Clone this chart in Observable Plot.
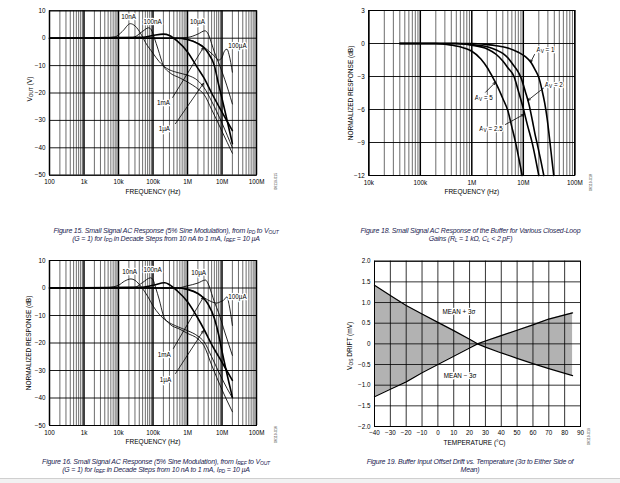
<!DOCTYPE html>
<html><head><meta charset="utf-8">
<script src="https://cdn.jsdelivr.net/npm/d3@7"></script>
<script src="https://cdn.jsdelivr.net/npm/@observablehq/plot@0.6"></script>
<style>
body{margin:0;background:#fff;}
#page{position:relative;width:620px;height:483px;overflow:hidden;background:#fff;font-family:"Liberation Sans",Arial,sans-serif;}
.panel{position:absolute;}
.panel svg{background:transparent !important;overflow:visible;}
.cap{position:absolute;width:300px;text-align:center;font-style:italic;font-size:7px;line-height:8.3px;color:#1b2350;letter-spacing:-0.2px;white-space:nowrap;}
.cap sub{font-size:5px;vertical-align:-1px;line-height:0;}
#rule{position:absolute;left:0;top:478px;width:620px;height:1px;background:#cfcfcf;}
#band{position:absolute;left:0;top:479px;width:620px;height:4px;background:#f2f2f2;}
</style></head>
<body>
<div id="page">
  <div class="panel" id="p15" style="left:0;top:0;width:300px;height:200px"></div>
  <div class="panel" id="p18" style="left:310px;top:0;width:310px;height:200px"></div>
  <div class="panel" id="p16" style="left:0;top:250px;width:300px;height:200px"></div>
  <div class="panel" id="p19" style="left:310px;top:250px;width:310px;height:200px"></div>
  <div class="cap" style="left:16px;top:226.5px">Figure 15. Small Signal AC Response (5% Sine Modulation), from I<sub>PD</sub> to V<sub>OUT</sub><br>(G = 1) for I<sub>PD</sub> in Decade Steps from 10 nA to 1 mA, I<sub>REF</sub> = 10 µA</div>
  <div class="cap" style="left:320.5px;top:226.5px">Figure 18. Small Signal AC Response of the Buffer for Various Closed-Loop<br>Gains (R<sub>L</sub> = 1 kΩ, C<sub>L</sub> &lt; 2 pF)</div>
  <div class="cap" style="left:6px;top:457.5px">Figure 16. Small Signal AC Response (5% Sine Modulation), from I<sub>REF</sub> to V<sub>OUT</sub><br>(G = 1) for I<sub>REF</sub> in Decade Steps from 10 nA to 1 mA, I<sub>PD</sub> = 10 µA</div>
  <div class="cap" style="left:320px;top:457.5px">Figure 19. Buffer Input Offset Drift vs. Temperature (3σ to Either Side of<br>Mean)</div>
  <div id="rule"></div><div id="band"></div>
</div>
<script>
// ---------- Figure 15 data (frequency Hz, dB) ----------
const fig15_10nA  = [[100,0],[3e3,0],[8e3,0.5],[1.3e4,2.5],[2.2e4,5.3],[3e4,4.5],[4.5e4,1.5],[6e4,-1.5],[1e5,-5.5],[1.5e5,-8.5],[2.5e5,-11],[5e5,-12.5],[1e6,-13.5],[2e6,-15.5],[3e6,-18],[5e6,-23],[1e7,-31],[2e7,-40]];
const fig15_100nA = [[100,0],[2e4,0],[3e4,0.5],[5e4,2.5],[7.5e4,3.8],[9e4,3],[1.1e5,0],[1.4e5,-4],[2e5,-10],[3e5,-12.5],[6e5,-14.5],[1e6,-16],[2e6,-18.5],[3e6,-20.5],[5e6,-26],[1e7,-34],[2e7,-42]];
const fig15_1uA   = [[100,0],[5e4,0.3],[1e5,1],[2e5,1.5],[3e5,1],[5e5,-1],[1e6,-5],[2e6,-11],[3e6,-14.5],[5e6,-20],[1e7,-27],[2e7,-33.7]];
const fig15_10uA  = [[100,0],[3e5,0],[1e6,0.3],[2e6,1.5],[3.2e6,2.7],[4e6,1.5],[5e6,-2],[6e6,-5],[8e6,-9],[1.2e7,-15],[2e7,-24]];
const fig15_100uA = [[100,0],[5e5,0],[1e6,-0.5],[2e6,-1.8],[3e6,-3.2],[4e6,-4.5],[6e6,-6.5],[8e6,-8],[1e7,-7],[1.2e7,-4.5],[1.4e7,-4],[1.6e7,-6],[2e7,-12.4]];
const fig15_1mA   = [[100,0],[5e5,0],[1e6,-0.5],[2e6,-2],[3e6,-3.5],[4e6,-5.5],[6e6,-10],[8e6,-17],[1e7,-22],[2e7,-38.5]];
const fig15LabelText = ["10nA","100nA","10µA","100µA","1mA","1µA"];
const fig15LabelFreq = [1.95e4, 9.8e4, 1.95e6, 2.8e7, 2.0e5, 2.14e5];
const fig15LabelDb   = [7.9, 6.1, 6.1, -2.7, -23.8, -33.3];
const fig15Arrows = [[3.72e5,-21.6,2.9e6,-3.4],[4.47e5,-31.2,2.9e6,-16.5]];

// ---------- Figure 16 data ----------
const fig16_10nA  = [[100,0],[5e3,0.2],[1e4,1],[1.5e4,2.5],[2.3e4,3.3],[3e4,2.8],[4.5e4,0.5],[7e4,-3],[1e5,-6.5],[1.5e5,-9.5],[2.5e5,-12],[5e5,-14],[1e6,-15.5],[2e6,-17.5],[3e6,-19.5],[5e6,-25],[1e7,-33],[2e7,-40]];
const fig16_100nA = [[100,0],[3e4,0.3],[5e4,2],[8.5e4,3.7],[1e5,3],[1.2e5,0],[1.5e5,-4],[2e5,-10],[3e5,-13],[6e5,-15],[1e6,-16.5],[2e6,-18.5],[3e6,-21],[5e6,-28],[1e7,-37],[2e7,-45]];
const fig16_1uA   = [[100,0],[5e4,0.3],[1e5,1],[2.2e5,1.9],[3e5,1.2],[5e5,-1],[1e6,-5],[2e6,-11],[3e6,-15],[5e6,-20.5],[1e7,-27],[2e7,-33.6]];
const fig16_10uA  = [[100,0],[5e5,0],[1e6,0.8],[2e6,1.8],[3.3e6,2.9],[4e6,1.5],[5e6,-2],[6e6,-5],[8e6,-9],[1.2e7,-16],[2e7,-24.5]];
const fig16_100uA = [[100,0],[5e5,0],[1e6,-0.5],[2e6,-2],[3e6,-3.5],[5e6,-5],[7e6,-5.5],[9e6,-5],[1.1e7,-4.5],[1.4e7,-3.2],[1.6e7,-6],[2e7,-13.6]];
const fig16_1mA   = [[100,0],[5e5,0],[1e6,-0.5],[2e6,-2],[3e6,-3.8],[4e6,-6],[6e6,-11],[8e6,-17],[1e7,-23],[2e7,-39.7]];
const fig16LabelText = ["10nA","100nA","10µA","100µA","1mA","1µA"];
const fig16LabelFreq = [2.1e4, 9.8e4, 2.1e6, 2.8e7, 2.1e5, 2.3e5];
const fig16LabelDb   = [5.75, 6.7, 5.6, -3.1, -24.2, -33.6];
const fig16Arrows = [[3.9e5,-22,2.9e6,-3.3],[4.5e5,-31.1,2.9e6,-15.5]];

// ---------- Figure 15/16 axes ----------
const dbTicks = [10,0,-10,-20,-30,-40,-50];
const dbTickLabels = ["10","0","−10","−20","−30","−40","−50"];
const freqTicksA = [1e2,1e3,1e4,1e5,1e6,1e7,1e8];
const freqTickLabelsA = ["100","1k","10k","100k","1M","10M","100M"];

// ---------- Figure 18 data ----------
const fig18_Av1  = [[4e4,0],[1e6,0],[2e6,-0.1],[3e6,-0.2],[5e6,-0.4],[8e6,-0.8],[1.1e7,-1.2],[1.4e7,-1.7],[1.7e7,-2.4],[2e7,-3.1],[2.3e7,-4.2],[2.6e7,-5.4],[2.9e7,-6.8],[3.3e7,-9],[3.6e7,-10.6],[3.9e7,-12]];
const fig18_Av2  = [[4e4,0],[5e5,0],[1e6,-0.1],[2e6,-0.3],[3e6,-0.6],[4e6,-0.9],[5e6,-1.3],[6.5e6,-2],[8e6,-2.6],[9e6,-3.1],[1.1e7,-4.4],[1.3e7,-5.6],[1.5e7,-7],[1.7e7,-8.3],[1.9e7,-9.3],[2.2e7,-10.7],[2.5e7,-12]];
const fig18_Av25 = [[4e4,0],[5e5,0],[1e6,-0.15],[2e6,-0.5],[3e6,-1],[4e6,-1.6],[5e6,-2.2],[6.6e6,-3],[8e6,-4.3],[1e7,-5.9],[1.2e7,-7.4],[1.5e7,-9.1],[1.7e7,-10.3],[2e7,-12]];
const fig18_Av5  = [[4e4,0],[2e5,0],[4e5,-0.15],[7e5,-0.4],[1e6,-0.7],[1.5e6,-1.4],[2e6,-2.2],[2.5e6,-3],[3e6,-3.7],[4e6,-5],[5e6,-6.1],[6e6,-7.6],[7e6,-8.9],[8e6,-10.2],[9.5e6,-12]];
const fig18LabelText = ["A_{V} = 1","A_{V} = 2","A_{V} = 5","A_{V} = 2.5"];
const fig18LabelFreq = [2.7e7, 3.91e7, 1.71e6, 2.36e6];
const fig18LabelDb   = [-0.57, -3.73, -4.95, -7.73];
const fig18Arrows = [[1.65e7,-1.0,1.38e7,-1.73],[2.5e7,-4.03,1.22e7,-5.18],[1.85e6,-4.43,2.88e6,-3.52],[4.5e6,-7.36,1.02e7,-6.45]];
const normTicks = [3,0,-3,-6,-9,-12];
const normTickLabels = ["3","0","−3","−6","−9","−12"];
const freqTicksB = [1e4,1e5,1e6,1e7,1e8];
const freqTickLabelsB = ["10k","100k","1M","10M","100M"];

// ---------- Figure 19 data ----------
const tempC     = [-40,-30,-20,-10,0,10,20,25,30,40,50,60,70,85];
const driftA    = [1.42,1.17,0.93,0.72,0.52,0.32,0.11,0,-0.08,-0.22,-0.35,-0.48,-0.6,-0.77];
const driftB    = [-1.28,-1.1,-0.92,-0.7,-0.5,-0.3,-0.1,0,0.07,0.2,0.33,0.46,0.6,0.75];
const tempTicks = [-40,-30,-20,-10,0,10,20,30,40,50,60,70,80,90];
const tempTickLabels = ["−40","−30","−20","−10","0","10","20","30","40","50","60","70","80","90"];
const driftTicks = [2,1.5,1,0.5,0,-0.5,-1,-1.5,-2];
const driftTickLabels = ["2.0","1.5","1.0","0.5","0","−0.5","−1.0","−1.5","−2.0"];
const fig19LabelText = ["MEAN + 3σ","MEAN − 3σ"];
const fig19LabelTemp = [13.3, 14];
const fig19LabelDrift = [0.76, -0.78];

// ---------- helpers ----------
const FONT = "Liberation Sans, Arial, sans-serif";
const FS = 6.3;

function applySubs(svg){
  svg.querySelectorAll("text").forEach(el => {
    const t = el.textContent;
    if (!t.includes("_{")) return;
    while (el.firstChild) el.removeChild(el.firstChild);
    const parts = t.split(/(_\{[^}]*\})/).filter(Boolean);
    let shifted = false;
    for (const p of parts) {
      const ts = document.createElementNS("http://www.w3.org/2000/svg","tspan");
      const m = p.match(/^_\{(.*)\}$/);
      if (m) { ts.textContent = m[1]; ts.setAttribute("font-size","75%"); ts.setAttribute("dy","1.4"); shifted = true; }
      else { ts.textContent = p; if (shifted) { ts.setAttribute("dy","-1.4"); shifted = false; } }
      el.appendChild(ts);
    }
  });
}

function seriesRows(list){
  return list.flatMap(c => c.pts.map(([f,db]) => ({f, db, name: c.name})));
}
function labelRows(text, fx, fy){ return text.map((t,i) => ({t, f: fx[i], v: fy[i]})); }
function arrowRows(a){ return a.map(([f1,v1,f2,v2]) => ({f1,v1,f2,v2})); }
function tickRows(v, l){ return v.map((d,i) => ({v: d, label: l[i]})); }

function logPanel(cfg){
  const [x0,x1] = cfg.xDomain;
  const minor = [];
  for (let d = x0; d < x1; d *= 10) for (let k = 2; k <= 9; k++) minor.push(d*k);
  const svg = Plot.plot({
    width: cfg.width, height: 200,
    marginLeft: cfg.ml, marginRight: cfg.width - cfg.xr, marginTop: cfg.mt, marginBottom: 200 - cfg.yb,
    x: {type: "log", domain: cfg.xDomain, axis: null},
    y: {domain: cfg.yDomain, axis: null},
    style: {fontFamily: FONT, background: "transparent", color: "#000"},
    marks: [
      Plot.ruleX(minor, {stroke: "#1e1e1e", strokeWidth: 0.65}),
      Plot.ruleX(cfg.xTicks, {stroke: "#000", strokeWidth: 1.5}),
      Plot.ruleY(cfg.yTicks, {stroke: "#000", strokeWidth: 0.9}),
      Plot.frame({stroke: "#000", strokeWidth: 1}),
      Plot.line(seriesRows(cfg.thin), {x: "f", y: "db", z: "name", stroke: "#000", strokeWidth: 0.85, curve: "monotone-x"}),
      Plot.line(seriesRows(cfg.thick), {x: "f", y: "db", z: "name", stroke: "#000", strokeWidth: 1.6, curve: "monotone-x"}),
      Plot.arrow(arrowRows(cfg.arrows), {x1: "f1", y1: "v1", x2: "f2", y2: "v2", stroke: "#000", strokeWidth: 0.8, headLength: 5, headAngle: 45}),
      Plot.text(labelRows(cfg.labelText, cfg.labelF, cfg.labelV), {x: "f", y: "v", text: "t", fontSize: FS, fill: "#000", stroke: "#fff", strokeWidth: 2.5, paintOrder: "stroke"}),
      Plot.text(tickRows(cfg.xTicks, cfg.xTickLabels), {x: "v", text: "label", frameAnchor: "bottom", lineAnchor: "middle", dy: 7, fontSize: FS, fill: "#000"}),
      Plot.text(tickRows(cfg.yTicks, cfg.yTickLabels), {y: "v", text: "label", frameAnchor: "left", dx: -4, textAnchor: "end", lineAnchor: "middle", fontSize: FS, fill: "#000"}),
      Plot.text([cfg.xTitle], {text: d => d, frameAnchor: "bottom", textAnchor: "middle", lineAnchor: "middle", dy: 16.3, fontSize: FS + 0.2, fill: "#000"}),
      Plot.text([cfg.yTitle], {text: d => d, frameAnchor: "left", textAnchor: "middle", lineAnchor: "middle", dx: cfg.yTitleDx, dy: cfg.yTitleDy || 0, rotate: -90, fontSize: FS + 0.2, fill: "#000"}),
      Plot.text([cfg.id], {text: d => d, frameAnchor: "bottom-right", textAnchor: "middle", lineAnchor: "middle", dx: cfg.idDx, dy: cfg.idDy, rotate: -90, fontSize: 3.6, fill: "#333"})
    ]
  });
  applySubs(svg);
  return svg;
}

const mk = (names, arrays) => names.map((n,i) => ({name: n, pts: arrays[i]}));

document.getElementById("p15").appendChild(logPanel({
  width: 300, ml: 49, xr: 256, mt: 10.3, yb: 174.7,
  xDomain: [1e2,1e8], yDomain: [-50,10],
  xTicks: freqTicksA, xTickLabels: freqTickLabelsA,
  yTicks: dbTicks, yTickLabels: dbTickLabels,
  thin: mk(["10nA","100nA","10µA","100µA"], [fig15_10nA, fig15_100nA, fig15_10uA, fig15_100uA]),
  thick: mk(["1µA","1mA"], [fig15_1uA, fig15_1mA]),
  labelText: fig15LabelText, labelF: fig15LabelFreq, labelV: fig15LabelDb,
  arrows: fig15Arrows,
  xTitle: "FREQUENCY (Hz)", yTitle: "V_{OUT} (V)", yTitleDx: -20, yTitleDy: -4,
  id: "06119-015", idDx: 19, idDy: 6
}));

document.getElementById("p16").appendChild(logPanel({
  width: 300, ml: 49, xr: 256, mt: 10, yb: 175,
  xDomain: [1e2,1e8], yDomain: [-50,10],
  xTicks: freqTicksA, xTickLabels: freqTickLabelsA,
  yTicks: dbTicks, yTickLabels: dbTickLabels,
  thin: mk(["10nA","100nA","10µA","100µA"], [fig16_10nA, fig16_100nA, fig16_10uA, fig16_100uA]),
  thick: mk(["1µA","1mA"], [fig16_1uA, fig16_1mA]),
  labelText: fig16LabelText, labelF: fig16LabelFreq, labelV: fig16LabelDb,
  arrows: fig16Arrows,
  xTitle: "FREQUENCY (Hz)", yTitle: "NORMALIZED RESPONSE (dB)", yTitleDx: -21,
  id: "06119-016", idDx: 19, idDy: 9
}));

document.getElementById("p18").appendChild(logPanel({
  width: 310, ml: 58.3, xr: 264.3, mt: 10, yb: 175,
  xDomain: [1e4,1e8], yDomain: [-12,3],
  xTicks: freqTicksB, xTickLabels: freqTickLabelsB,
  yTicks: normTicks, yTickLabels: normTickLabels,
  thin: [],
  thick: mk(["Av1","Av2","Av2.5","Av5"], [fig18_Av1, fig18_Av2, fig18_Av25, fig18_Av5]),
  labelText: fig18LabelText, labelF: fig18LabelFreq, labelV: fig18LabelDb,
  arrows: fig18Arrows,
  xTitle: "FREQUENCY (Hz)", yTitle: "NORMALIZED RESPONSE (dB)", yTitleDx: -18.3,
  id: "06119-018", idDx: 16, idDy: 7
}));

// Figure 19
const driftRows = tempC.map((t,i) => ({t, a: driftA[i], b: driftB[i]}));
const p19 = Plot.plot({
  width: 310, height: 200, marginLeft: 64, marginRight: 40, marginTop: 10.7, marginBottom: 24,
  x: {domain: [-40,90], axis: null},
  y: {domain: [-2,2], axis: null},
  style: {fontFamily: FONT, background: "transparent", color: "#000"},
  marks: [
    Plot.areaY(driftRows, {x: "t", y1: "a", y2: "b", fill: "#b2b2b2"}),
    Plot.ruleX(tempTicks, {stroke: "#000", strokeWidth: 0.8}),
    Plot.ruleY(driftTicks, {stroke: "#000", strokeWidth: 0.8}),
    Plot.frame({stroke: "#000", strokeWidth: 1}),
    Plot.line(driftRows, {x: "t", y: "a", stroke: "#000", strokeWidth: 1.2}),
    Plot.line(driftRows, {x: "t", y: "b", stroke: "#000", strokeWidth: 1.2}),
    Plot.text(labelRows(fig19LabelText, fig19LabelTemp, fig19LabelDrift), {x: "f", y: "v", text: "t", fontSize: FS, fill: "#000", stroke: "#fff", strokeWidth: 2.5, paintOrder: "stroke"}),
    Plot.text(tickRows(tempTicks, tempTickLabels), {x: "v", text: "label", frameAnchor: "bottom", lineAnchor: "middle", dy: 6.7, fontSize: FS, fill: "#000"}),
    Plot.text(tickRows(driftTicks, driftTickLabels), {y: "v", text: "label", frameAnchor: "left", dx: -4, textAnchor: "end", lineAnchor: "middle", fontSize: FS, fill: "#000"}),
    Plot.text(["TEMPERATURE (°C)"], {text: d => d, frameAnchor: "bottom", textAnchor: "middle", lineAnchor: "middle", dx: -3, dy: 16.7, fontSize: FS + 0.2, fill: "#000"}),
    Plot.text(["V_{OS} DRIFT (mV)"], {text: d => d, frameAnchor: "left", textAnchor: "middle", lineAnchor: "middle", dx: -24.7, dy: 2, rotate: -90, fontSize: FS + 0.2, fill: "#000"}),
    Plot.text(["06119-019"], {text: d => d, frameAnchor: "bottom-right", textAnchor: "middle", lineAnchor: "middle", dx: 8, dy: 10, rotate: -90, fontSize: 3.6, fill: "#333"})
  ]
});
applySubs(p19);
document.getElementById("p19").appendChild(p19);
</script>
</body></html>
